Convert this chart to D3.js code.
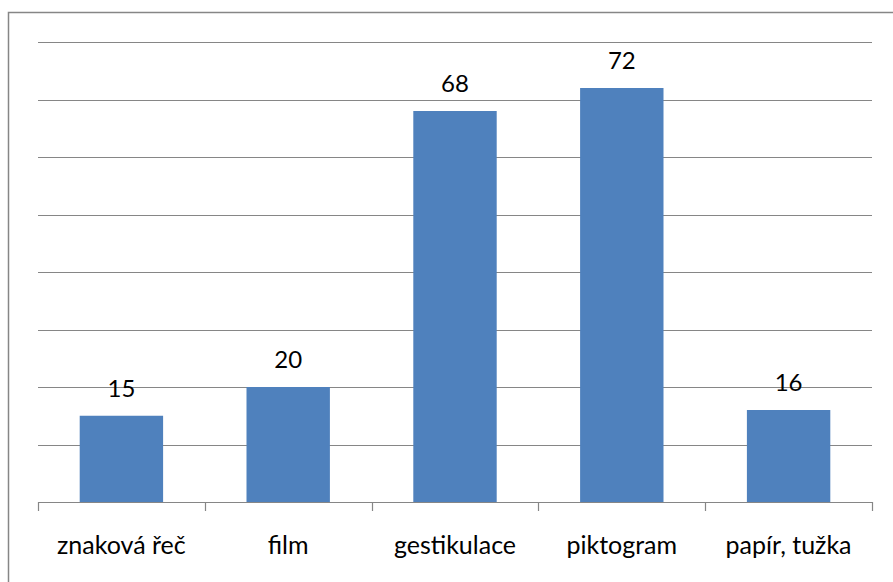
<!DOCTYPE html>
<html>
<head>
<meta charset="utf-8">
<script src="https://cdn.jsdelivr.net/npm/d3@7"></script>
<style>
  html, body { margin: 0; padding: 0; background: #fff; }
  svg { display: block; }
  text { font-family: Lato, "Open Sans", sans-serif; fill: #000; }
</style>
</head>
<body>
<svg id="chart" width="893" height="582"></svg>
<script>
// Communication methods and how often each was chosen
const categories = ["znaková řeč", "film", "gestikulace", "piktogram", "papír, tužka"];
const values = [15, 20, 68, 72, 16];
const gridTicks = [0, 10, 20, 30, 40, 50, 60, 70, 80];

const W = 893, H = 582;
const margin = { left: 38, right: 21, top: 42, bottom: 80 };

const svg = d3.select("#chart");

// Chart frame (runs off the right and bottom edges)
svg.append("rect")
  .attr("x", 8.5).attr("y", 12.5)
  .attr("width", W + 10).attr("height", H + 10)
  .attr("fill", "#fff")
  .attr("stroke", "#868686")
  .attr("stroke-width", 1.5);

const x = d3.scaleBand()
  .domain(categories)
  .range([margin.left, W - margin.right])
  .paddingInner(0.5)
  .paddingOuter(0.25);

const y = d3.scaleLinear()
  .domain([0, 80])
  .range([H - margin.bottom, margin.top]);

// Horizontal gridlines
svg.append("g")
  .selectAll("line")
  .data(gridTicks.filter(d => d > 0))
  .join("line")
  .attr("x1", margin.left).attr("x2", W - margin.right)
  .attr("y1", d => Math.round(y(d)) + 0.5)
  .attr("y2", d => Math.round(y(d)) + 0.5)
  .attr("stroke", "#868686")
  .attr("stroke-width", 1.2);

// Bars
svg.append("g")
  .selectAll("rect")
  .data(values)
  .join("rect")
  .attr("x", (d, i) => x(categories[i]))
  .attr("width", x.bandwidth())
  .attr("y", d => y(d))
  .attr("height", d => y(0) - y(d))
  .attr("fill", "#4F81BD");

// Category axis with ticks between bands
const boundaries = d3.range(categories.length + 1).map(i => margin.left + i * (W - margin.left - margin.right) / categories.length);
const axis = svg.append("g");
axis.append("line")
  .attr("x1", margin.left).attr("x2", W - margin.right)
  .attr("y1", y(0) + 0.5).attr("y2", y(0) + 0.5)
  .attr("stroke", "#868686").attr("stroke-width", 1.2);
axis.selectAll("line.tick")
  .data(boundaries)
  .join("line")
  .attr("class", "tick")
  .attr("x1", d => Math.round(d) + 0.5).attr("x2", d => Math.round(d) + 0.5)
  .attr("y1", y(0)).attr("y2", y(0) + 9)
  .attr("stroke", "#868686").attr("stroke-width", 1.2);

axis.selectAll("text")
  .data(categories)
  .join("text")
  .attr("x", d => x(d) + x.bandwidth() / 2)
  .attr("y", 554)
  .attr("text-anchor", "middle")
  .attr("font-size", 25)
  .text(d => d);

// Value labels above bars
svg.append("g")
  .selectAll("text")
  .data(values)
  .join("text")
  .attr("x", (d, i) => x(categories[i]) + x.bandwidth() / 2)
  .attr("y", d => y(d) - 19)
  .attr("text-anchor", "middle")
  .attr("font-size", 24)
  .text(d => d);
</script>
</body>
</html>
